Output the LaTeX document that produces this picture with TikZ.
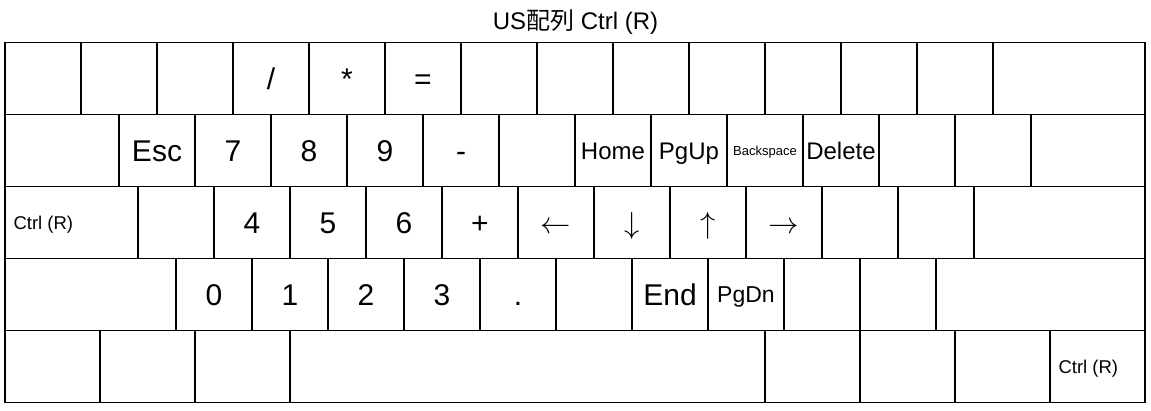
\documentclass[tikz,border=0pt]{standalone}
\usepackage{graphicx}
\usepackage{fontspec}
\setmainfont{Liberation Sans}
\newfontfamily\cjkfont{Noto Sans CJK JP}
\newcommand{\bigarr}[1]{\scalebox{1.22}{$#1$}}
\begin{document}
\begin{tikzpicture}[x=1pt,y=-1pt,
  key/.style={draw, line width=1.3pt, minimum width=76pt, minimum height=72pt, inner sep=0pt},
  fxxx/.style={font=\fontsize{30}{30}\selectfont, text height=21.5pt, text depth=0pt},
  fxxiv/.style={font=\fontsize{24}{24}\selectfont, text height=17.2pt, text depth=0pt},
  fxxiii/.style={font=\fontsize{23}{23}\selectfont, text height=16.5pt, text depth=0pt},
  fxviii/.style={font=\fontsize{18.5}{18.5}\selectfont, text height=13.2pt, text depth=0pt},
  fxiii/.style={font=\fontsize{13}{13}\selectfont, text height=9.3pt, text depth=0pt},
  sidelabel/.style={fxviii, anchor=west, inner sep=0pt, xshift=9pt}
]
\useasboundingbox (0,0) rectangle (1151,410);
\node[fxxiv, inner sep=0pt] (title) at (575.5,20.5) {US{\cjkfont 配列} Ctrl (R)};
% Row 1
\node[key] (a1) at (43,78.7) {};
\node[key] (a2) at (119,78.7) {};
\node[key] (a3) at (195,78.7) {};
\node[key,fxxx] (a4) at (271,78.7) {/};
\node[key,fxxx] (a5) at (347,78.7) {*};
\node[key,fxxx] (a6) at (423,78.7) {=};
\node[key] (a7) at (499,78.7) {};
\node[key] (a8) at (575,78.7) {};
\node[key] (a9) at (651,78.7) {};
\node[key] (a10) at (727,78.7) {};
\node[key] (a11) at (803,78.7) {};
\node[key] (a12) at (879,78.7) {};
\node[key] (a13) at (955,78.7) {};
\node[key,minimum width=152pt] (a14) at (1069,78.7) {};
% Row 2
\node[key,minimum width=114pt] (b1) at (62,150.7) {};
\node[key,fxxx] (b2) at (157,150.7) {Esc};
\node[key,fxxx] (b3) at (233,150.7) {7};
\node[key,fxxx] (b4) at (309,150.7) {8};
\node[key,fxxx] (b5) at (385,150.7) {9};
\node[key,fxxx] (b6) at (461,150.7) {-};
\node[key] (b7) at (537,150.7) {};
\node[key,fxxiv] (b8) at (613,150.7) {Home};
\node[key,fxxiv] (b9) at (689,150.7) {PgUp};
\node[key,fxiii] (b10) at (765,150.7) {Backspace};
\node[key,fxxiv] (b11) at (841,150.7) {Delete};
\node[key] (b12) at (917,150.7) {};
\node[key] (b13) at (993,150.7) {};
\node[key,minimum width=114pt] (b14) at (1088,150.7) {};
% Row 3
\node[key,minimum width=133pt] (c1) at (71.5,222.7) {};
\node[sidelabel] (c1t) at (c1.west) {Ctrl (R)};
\node[key] (c2) at (176,222.7) {};
\node[key,fxxx] (c3) at (252,222.7) {4};
\node[key,fxxx] (c4) at (328,222.7) {5};
\node[key,fxxx] (c5) at (404,222.7) {6};
\node[key,fxxx] (c6) at (480,222.7) {+};
\node[key,fxxx] (c7) at (556,222.7) {\bigarr{\leftarrow}};
\node[key,fxxx] (c8) at (632,222.7) {\bigarr{\downarrow}};
\node[key,fxxx] (c9) at (708,222.7) {\bigarr{\uparrow}};
\node[key,fxxx] (c10) at (784,222.7) {\bigarr{\rightarrow}};
\node[key] (c11) at (860,222.7) {};
\node[key] (c12) at (936,222.7) {};
\node[key,minimum width=171pt] (c13) at (1059.5,222.7) {};
% Row 4
\node[key,minimum width=171pt] (d1) at (90.5,294.7) {};
\node[key,fxxx] (d2) at (214,294.7) {0};
\node[key,fxxx] (d3) at (290,294.7) {1};
\node[key,fxxx] (d4) at (366,294.7) {2};
\node[key,fxxx] (d5) at (442,294.7) {3};
\node[key,fxxx] (d6) at (518,294.7) {.};
\node[key] (d7) at (594,294.7) {};
\node[key,fxxx] (d8) at (670,294.7) {End};
\node[key,fxxiii] (d9) at (746,294.7) {PgDn};
\node[key] (d10) at (822,294.7) {};
\node[key] (d11) at (898,294.7) {};
\node[key,minimum width=209pt] (d12) at (1040.5,294.7) {};
% Row 5
\node[key,minimum width=95pt] (e1) at (52.5,366.7) {};
\node[key,minimum width=95pt] (e2) at (147.5,366.7) {};
\node[key,minimum width=95pt] (e3) at (242.5,366.7) {};
\node[key,minimum width=475pt] (e4) at (527.5,366.7) {};
\node[key,minimum width=95pt] (e5) at (812.5,366.7) {};
\node[key,minimum width=95pt] (e6) at (907.5,366.7) {};
\node[key,minimum width=95pt] (e7) at (1002.5,366.7) {};
\node[key,minimum width=95pt] (e8) at (1097.5,366.7) {};
\node[sidelabel] (e8t) at (e8.west) {Ctrl (R)};
\end{tikzpicture}
\end{document}
